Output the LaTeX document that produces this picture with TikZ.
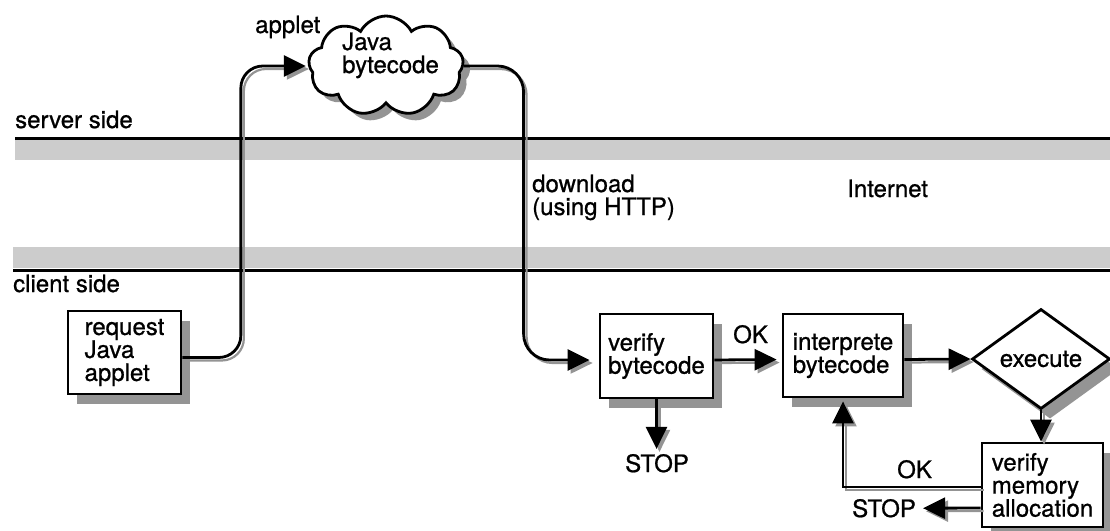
\documentclass[tikz,border=0pt]{standalone}
\usepackage{fontspec}
\setmainfont{TeX Gyre Heros}[FakeBold=0.8]
\usetikzlibrary{shapes.geometric,shapes.symbols,arrows.meta,shadows}
\definecolor{bandgray}{gray}{0.8}
\definecolor{shadowgray}{gray}{0.58}
\begin{document}
\begin{tikzpicture}[x=1pt,y=-1pt,
  every node/.style={font=\fontsize{24}{23}\selectfont},
  lbl/.style={inner sep=0pt, anchor=base west, align=left},
  boxshadow/.style={drop shadow={shadow xshift=9pt, shadow yshift=-10pt, fill=shadowgray, opacity=1}},
  procbox/.style={draw, line width=2.8pt, fill=white, align=left, inner sep=0pt,
    minimum width=113pt, minimum height=84pt, boxshadow},
  conn/.style={line width=2.8pt, -{Triangle[length=22pt,width=21pt]},
    preaction={draw=shadowgray, line width=2.2pt, transform canvas={xshift=3pt,yshift=-3pt}}},
  rule/.style={line width=3pt}
]
\useasboundingbox (0,0) rectangle (1110,530);

% bands and separators
\fill[bandgray] (15,140) rectangle (1110,160);
\fill[bandgray] (13,247) rectangle (1110,268);
\draw[rule] (15,138) -- (1110,138);
\draw[rule] (13,270) -- (1110,270);

% labels
\node[lbl] (server) at (15,128) {server side};
\node[lbl] (client) at (13,292) {client side};
\node[lbl] (appletlbl) at (255,33) {applet};
\node[lbl] (download) at (532,215) {download\\(using HTTP)};
\node[lbl] (internet) at (847,197) {Internet};
\node[lbl] (ok1) at (733,343) {OK};
\node[lbl] (ok2) at (897,478) {OK};
\node[lbl] (stop1) at (625,472) {STOP};
\node[lbl] (stop2) at (852,517) {STOP};

% nodes
\node[procbox, minimum height=83pt] (request) at (124.5,352.5) {request\\Java\\applet};
\node[cloud, draw, line width=2.8pt, fill=white, cloud puffs=9, cloud puff arc=125,
      cloud ignores aspect, minimum width=155pt, minimum height=100pt, inner sep=0pt,
      drop shadow={shadow xshift=7pt, shadow yshift=-7pt, fill=shadowgray, opacity=1}]
      (cloud) at (386,66) {};
\node[lbl] (cloudtext) at (342,73) {Java\\bytecode};
\node[procbox] (verify) at (656.5,356) {verify\\bytecode};
\node[procbox, minimum width=120pt, minimum height=83pt] (interp) at (843,355.5) {interprete\\bytecode};
\node[diamond, draw, line width=2.8pt, fill=white, inner sep=0pt, shape aspect=1.38,
      minimum width=138pt, minimum height=100pt, boxshadow] (execute) at (1041,359) {execute};
\node[procbox, minimum width=121pt] (memory) at (1042.5,485) {verify\\memory\\allocation};

% connectors
\draw[conn, rounded corners=22pt, shorten >=2pt]
  ([yshift=-5pt]request.east) -| ([xshift=-67pt]cloud.west) -- (cloud.west);
\draw[conn, rounded corners=26pt, shorten >=9pt]
  (cloud.east) -| ([xshift=-75pt,yshift=-4pt]verify.west) -- ([yshift=-4pt]verify.west);
\draw[conn, shorten >=5pt] ([yshift=-4pt]verify.east) -- ([yshift=-4pt]interp.west);
\draw[conn] ([yshift=-4pt]interp.east) -- (execute.west);
\draw[conn] (execute.south) -- (execute.south |- memory.north);
\draw[conn, shorten >=3pt] ([yshift=-2pt]memory.west) -| (interp.south);
\draw[conn, shorten >=7pt] ([yshift=-23pt]memory.west) -- (stop2.east);
\draw[conn, shorten >=5pt] (verify.south) -- (verify.south |- stop1.north);
\end{tikzpicture}
\end{document}
